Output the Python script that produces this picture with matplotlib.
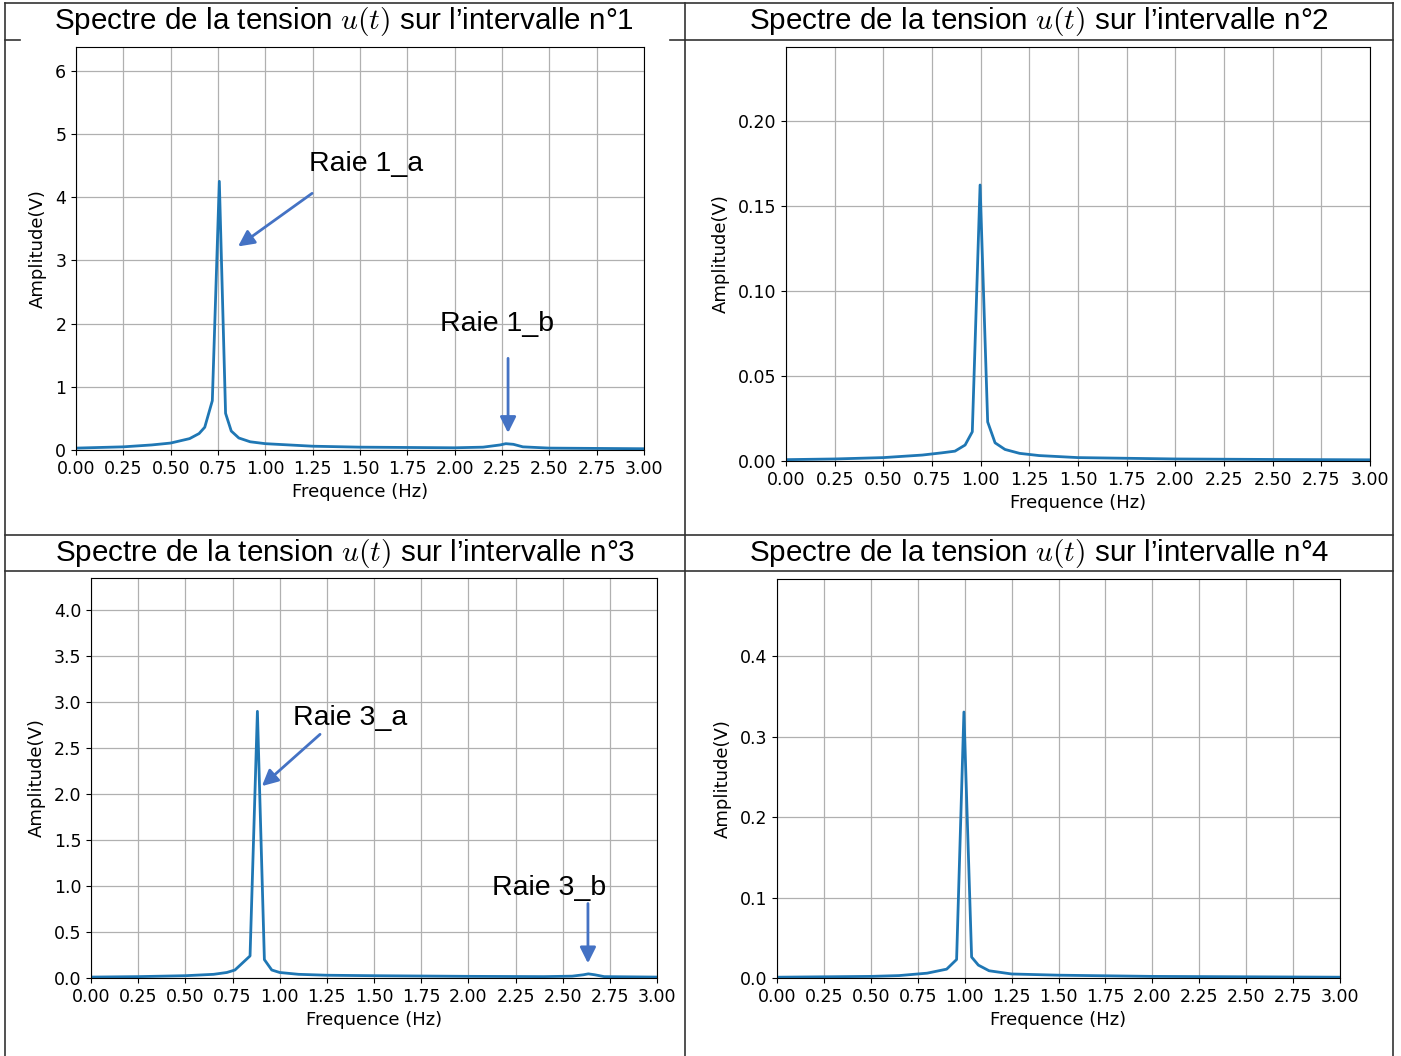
import numpy as np
import matplotlib
matplotlib.use("Agg")
import matplotlib.pyplot as plt
from matplotlib.ticker import MultipleLocator, FormatStrFormatter

plt.rcParams['mathtext.fontset'] = 'cm'

W, H = 1401, 1056

# spectre 1
f1 = [0.00, 0.25, 0.40, 0.50, 0.60, 0.65, 0.68, 0.72, 0.757, 0.79, 0.82, 0.86, 0.92, 1.00,
      1.25, 1.50, 1.75, 2.00, 2.15, 2.24, 2.27, 2.31, 2.36, 2.50, 2.75, 3.00]
a1 = [0.03, 0.05, 0.08, 0.11, 0.18, 0.26, 0.36, 0.78, 4.25, 0.58, 0.30, 0.19, 0.13, 0.10,
      0.06, 0.045, 0.04, 0.035, 0.045, 0.08, 0.10, 0.09, 0.05, 0.03, 0.025, 0.02]

# spectre 2
f2 = [0.00, 0.25, 0.50, 0.70, 0.80, 0.868, 0.92, 0.957, 0.997, 1.036, 1.074, 1.125,
      1.20, 1.30, 1.50, 2.00, 2.50, 3.00]
a2 = [0.0008, 0.0012, 0.002, 0.0035, 0.0048, 0.0058, 0.0094, 0.0172, 0.1625, 0.023, 0.0107, 0.0068,
      0.0045, 0.0032, 0.002, 0.0012, 0.0009, 0.0007]

# spectre 3
f3 = [0.00, 0.25, 0.50, 0.65, 0.72, 0.763, 0.843, 0.882, 0.919, 0.958, 1.00, 1.10, 1.25,
      1.50, 2.00, 2.40, 2.55, 2.61, 2.636, 2.67, 2.72, 3.00]
a3 = [0.01, 0.015, 0.025, 0.04, 0.06, 0.087, 0.24, 2.90, 0.20, 0.087, 0.06, 0.04, 0.03,
      0.025, 0.018, 0.015, 0.02, 0.035, 0.045, 0.035, 0.015, 0.01]

# spectre 4
f4 = [0.00, 0.50, 0.65, 0.80, 0.904, 0.957, 0.996, 1.037, 1.073, 1.13, 1.25, 1.50, 2.00, 2.50, 3.00]
a4 = [0.001, 0.002, 0.003, 0.006, 0.011, 0.023, 0.3306, 0.026, 0.016, 0.009, 0.005, 0.0035,
      0.002, 0.0015, 0.001]

titles = ["Spectre de la tension $u(t)$ sur l\u2019intervalle n\u00b01",
          "Spectre de la tension $u(t)$ sur l\u2019intervalle n\u00b02",
          "Spectre de la tension $u(t)$ sur l\u2019intervalle n\u00b03",
          "Spectre de la tension $u(t)$ sur l\u2019intervalle n\u00b04"]

fig = plt.figure(figsize=(W / 100, H / 100), dpi=100)


def px_axes(L, T, R, B):
    return fig.add_axes([L / W, 1 - B / H, (R - L) / W, (B - T) / H])


# cadre du tableau
frame = fig.add_axes([0, 0, 1, 1])
frame.set_xlim(0, W)
frame.set_ylim(H, 0)
frame.axis('off')
lc = '#333333'
for x in [5, 685, 1393]:
    frame.plot([x, x], [3, H], color=lc, lw=1.2)
frame.plot([5, 1393], [3, 3], color=lc, lw=1.2)
frame.plot([5, 20], [40, 40], color=lc, lw=1.2)
frame.plot([670, 685], [40, 40], color=lc, lw=1.2)
frame.plot([685, 1393], [40, 40], color=lc, lw=1.2)
frame.plot([5, 1393], [535, 535], color=lc, lw=1.2)
frame.plot([5, 1393], [571, 571], color=lc, lw=1.2)

title_pos = [(344, 21), (1039, 21), (345, 553), (1039, 553)]
for t, (x, y) in zip(titles, title_pos):
    frame.text(x, y, t, fontsize=21.3, family='Liberation Sans', ha='center', va='center')

boxes = [(76, 47, 644, 450), (786, 47, 1370, 461), (91, 578, 657, 978), (777, 579, 1340, 978)]
data = [(f1, a1), (f2, a2), (f3, a3), (f4, a4)]
ysteps = [1, 0.05, 0.5, 0.1]
yfmts = ['%d', '%.2f', '%.1f', '%.1f']

axs = []
for box, (f, a), ys, yf in zip(boxes, data, ysteps, yfmts):
    ax = px_axes(*box)
    ax.plot(f, a, color='#1f77b4', lw=2)
    ax.set_xlim(0, 3)
    ax.set_ylim(0, max(a) * 1.5)
    ax.xaxis.set_major_locator(MultipleLocator(0.25))
    ax.xaxis.set_major_formatter(FormatStrFormatter('%.2f'))
    ax.yaxis.set_major_locator(MultipleLocator(ys))
    ax.yaxis.set_major_formatter(FormatStrFormatter(yf))
    ax.tick_params(labelsize=12.5)
    ax.grid(True, color='#b0b0b0', lw=0.9)
    ax.set_xlabel('Frequence (Hz)', fontsize=13)
    ax.set_ylabel('Amplitude(V)', fontsize=13, labelpad=6)
    axs.append(ax)

blue = '#4472C4'
arrow = dict(arrowstyle='-|>', color=blue, lw=2, mutation_scale=24, shrinkA=0, shrinkB=0)
tfont = dict(fontsize=20.5, family='Liberation Sans', ha='center', va='center')

axs[0].annotate('', xy=(0.856, 3.22), xytext=(1.247, 4.06), arrowprops=arrow)
axs[0].text(1.53, 4.53, 'Raie 1_a', **tfont)
axs[0].annotate('', xy=(2.282, 0.27), xytext=(2.282, 1.45), arrowprops=arrow)
axs[0].text(2.224, 2.0, 'Raie 1_b', **tfont)

axs[2].annotate('', xy=(0.906, 2.087), xytext=(1.214, 2.65), arrowprops=arrow)
axs[2].text(1.373, 2.83, 'Raie 3_a', **tfont)
axs[2].annotate('', xy=(2.634, 0.16), xytext=(2.634, 0.81), arrowprops=arrow)
axs[2].text(2.428, 0.984, 'Raie 3_b', **tfont)

fig.savefig('out.png', dpi=100)
